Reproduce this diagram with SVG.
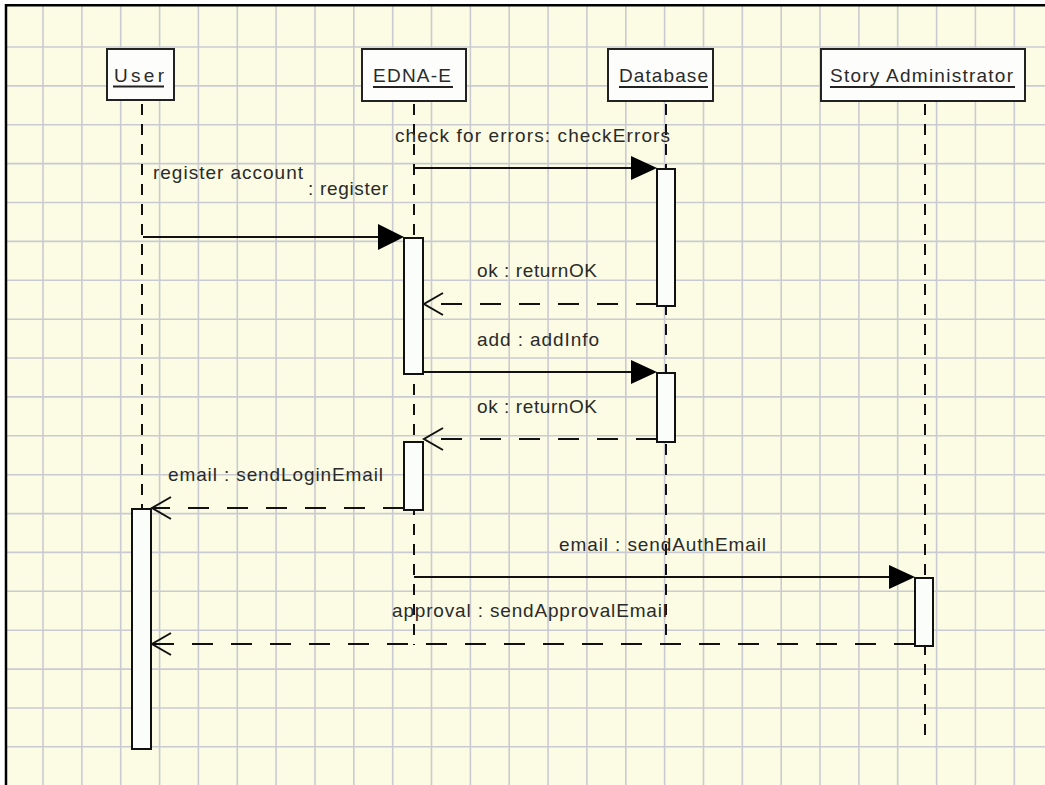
<svg xmlns="http://www.w3.org/2000/svg" width="1045" height="785" viewBox="0 0 1045 785">
<style>
.grid{stroke:#cacad2;stroke-width:1.6;fill:none}
.frame{stroke:#000;stroke-width:2.5;fill:none}
.head{fill:#fdfdfb;stroke:#222;stroke-width:2}
.act{fill:#fbfdfb;stroke:#111;stroke-width:2}
.life{stroke:#111;stroke-width:2;stroke-dasharray:11 9;fill:none}
.msg{stroke:#111;stroke-width:2;fill:none}
.ret{stroke:#111;stroke-width:2;stroke-dasharray:21 18;fill:none}
.open{stroke:#111;stroke-width:2;fill:none}
.tip{fill:#000}
.ul{stroke:#222;stroke-width:2}
text{font-family:"Liberation Sans",Arial,sans-serif;font-size:19px;fill:#2a2a2a}
</style>
<rect x="0" y="0" width="1045" height="785" fill="#ffffff"/>
<rect x="6" y="6" width="1039" height="779" fill="#fbfce3"/>
<g id="grid">
<path class="grid" d="M43,6V785M81.9,6V785M120.7,6V785M159.6,6V785M198.4,6V785M237.3,6V785M276.1,6V785M315,6V785M353.8,6V785M392.7,6V785M431.5,6V785M470.4,6V785M509.2,6V785M548.1,6V785M586.9,6V785M625.8,6V785M664.6,6V785M703.5,6V785M742.3,6V785M781.2,6V785M820,6V785M858.9,6V785M897.7,6V785M936.6,6V785M975.4,6V785M1014.3,6V785"/>
<path class="grid" d="M6,47H1045M6,85.9H1045M6,124.8H1045M6,163.6H1045M6,202.5H1045M6,241.4H1045M6,280.3H1045M6,319.2H1045M6,358H1045M6,396.9H1045M6,435.8H1045M6,474.7H1045M6,513.6H1045M6,552.4H1045M6,591.3H1045M6,630.2H1045M6,669.1H1045M6,708H1045M6,746.8H1045"/>
</g>
<path class="frame" d="M6,785V5.3H1045"/>
<g id="user">
<line class="life" x1="142" y1="104" x2="142" y2="509"/>
<rect class="head" x="107" y="49" width="67" height="51"/>
<text x="114" y="82" textLength="50" lengthAdjust="spacing">User</text>
<line class="ul" x1="113" y1="86.5" x2="164" y2="86.5"/>
<rect class="act" x="132" y="509" width="19" height="240"/>
</g>
<g id="edna">
<line class="life" x1="414" y1="104" x2="414" y2="645"/>
<rect class="head" x="362" y="49" width="104" height="52"/>
<text x="373" y="82" textLength="78" lengthAdjust="spacing">EDNA-E</text>
<line class="ul" x1="373" y1="87" x2="453" y2="87"/>
<rect class="act" x="404" y="238" width="19" height="136"/>
<rect class="act" x="404" y="442" width="19" height="68"/>
</g>
<g id="database">
<line class="life" x1="666" y1="104" x2="666" y2="645"/>
<rect class="head" x="608" y="49" width="105" height="52"/>
<text x="619" y="82" textLength="89" lengthAdjust="spacing">Database</text>
<line class="ul" x1="619" y1="87" x2="708" y2="87"/>
<rect class="act" x="657" y="169" width="18" height="137"/>
<rect class="act" x="657" y="373" width="18" height="69"/>
</g>
<g id="story-admin">
<line class="life" x1="925" y1="104" x2="925" y2="740"/>
<rect class="head" x="821" y="49" width="204" height="52"/>
<text x="830" y="82" textLength="183" lengthAdjust="spacing">Story Administrator</text>
<line class="ul" x1="830" y1="87" x2="1015" y2="87"/>
<rect class="act" x="915" y="578" width="18" height="68"/>
</g>
<g id="connectors">
<path class="msg" d="M414,168H632"/>
<polygon class="tip" points="657,168 631,156 631,180"/>
<path class="msg" d="M143,237H379"/>
<polygon class="tip" points="404,237 378,224 378,250"/>
<path class="ret" d="M657,304H424"/>
<polyline class="open" points="443,293 424,304 443,315"/>
<path class="msg" d="M423,372H632"/>
<polygon class="tip" points="657,372 631,360 631,384"/>
<path class="ret" d="M657,439H424"/>
<polyline class="open" points="443,428 424,439 443,450"/>
<path class="ret" d="M404,508H152"/>
<polyline class="open" points="171,497 152,508 171,519"/>
<path class="msg" d="M414,577H890"/>
<polygon class="tip" points="915,577 889,565 889,589"/>
<path class="ret" d="M915,644H152"/>
<polyline class="open" points="171,633 152,644 171,655"/>
</g>
<g id="labels">
<text x="395" y="142" textLength="275" lengthAdjust="spacing">check for errors: checkErrors</text>
<text x="153" y="179" textLength="150" lengthAdjust="spacing">register account</text>
<text x="308" y="195" textLength="80" lengthAdjust="spacing">: register</text>
<text x="477" y="277" textLength="120" lengthAdjust="spacing">ok : returnOK</text>
<text x="477" y="346" textLength="122" lengthAdjust="spacing">add : addInfo</text>
<text x="477" y="413" textLength="120" lengthAdjust="spacing">ok : returnOK</text>
<text x="168" y="481" textLength="215" lengthAdjust="spacing">email : sendLoginEmail</text>
<text x="559" y="551" textLength="207" lengthAdjust="spacing">email : sendAuthEmail</text>
<text x="392" y="617" textLength="275" lengthAdjust="spacing">approval : sendApprovalEmail</text>
</g>
</svg>
